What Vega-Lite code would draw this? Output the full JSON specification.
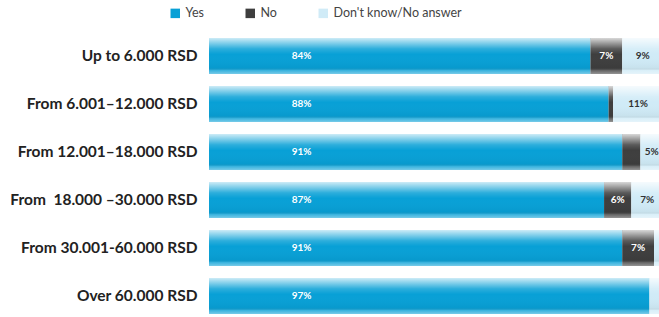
{
  "$schema": "https://vega.github.io/schema/vega-lite/v6.json",
  "autosize": {"type": "none"},
  "padding": {"left": 209, "top": 38, "right": 0, "bottom": 0},
  "width": 450,
  "height": 276,
  "background": "white",
  "config": {"view": {"stroke": null}, "font": "Lato"},
  "data": {
    "values": [
      {"cat": "Up to 6.000 RSD", "answer": "Yes", "ord": 1, "value": 84, "label": "84%"},
      {"cat": "Up to 6.000 RSD", "answer": "No", "ord": 2, "value": 7, "label": "7%"},
      {"cat": "Up to 6.000 RSD", "answer": "Don't know/No answer", "ord": 3, "value": 9, "label": "9%"},
      {"cat": "From 6.001–12.000 RSD", "answer": "Yes", "ord": 1, "value": 88, "label": "88%"},
      {"cat": "From 6.001–12.000 RSD", "answer": "No", "ord": 2, "value": 1, "label": ""},
      {"cat": "From 6.001–12.000 RSD", "answer": "Don't know/No answer", "ord": 3, "value": 11, "label": "11%"},
      {"cat": "From 12.001–18.000 RSD", "answer": "Yes", "ord": 1, "value": 91, "label": "91%"},
      {"cat": "From 12.001–18.000 RSD", "answer": "No", "ord": 2, "value": 4, "label": ""},
      {"cat": "From 12.001–18.000 RSD", "answer": "Don't know/No answer", "ord": 3, "value": 5, "label": "5%"},
      {"cat": "From\u00a0 18.000 –30.000 RSD", "answer": "Yes", "ord": 1, "value": 87, "label": "87%"},
      {"cat": "From\u00a0 18.000 –30.000 RSD", "answer": "No", "ord": 2, "value": 6, "label": "6%"},
      {"cat": "From\u00a0 18.000 –30.000 RSD", "answer": "Don't know/No answer", "ord": 3, "value": 7, "label": "7%"},
      {"cat": "From 30.001-60.000 RSD", "answer": "Yes", "ord": 1, "value": 91, "label": "91%"},
      {"cat": "From 30.001-60.000 RSD", "answer": "No", "ord": 2, "value": 7, "label": "7%"},
      {"cat": "From 30.001-60.000 RSD", "answer": "Don't know/No answer", "ord": 3, "value": 2, "label": ""},
      {"cat": "Over 60.000 RSD", "answer": "Yes", "ord": 1, "value": 97, "label": "97%"},
      {"cat": "Over 60.000 RSD", "answer": "No", "ord": 2, "value": 0, "label": ""},
      {"cat": "Over 60.000 RSD", "answer": "Don't know/No answer", "ord": 3, "value": 3, "label": ""}
    ]
  },
  "transform": [
    {"stack": "value", "groupby": ["cat"], "sort": [{"field": "ord"}], "as": ["x0", "x1"]},
    {"calculate": "(datum.x0 + datum.x1) / 2", "as": "mid"}
  ],
  "encoding": {
    "y": {
      "field": "cat",
      "type": "nominal",
      "sort": null,
      "scale": {"paddingInner": 0.25, "paddingOuter": 0},
      "axis": {
        "title": null,
        "domain": false,
        "ticks": false,
        "labelPadding": 12,
        "labelFontSize": 15.5,
        "labelFontWeight": "bold",
        "labelColor": "#222222",
        "labelFont": "Lato",
        "labelLimit": 300
      }
    }
  },
  "layer": [
    {
      "mark": {"type": "bar", "clip": true},
      "encoding": {
        "x": {
          "field": "x0",
          "type": "quantitative",
          "scale": {"domain": [0, 99.1], "nice": false, "zero": false},
          "axis": null
        },
        "x2": {"field": "x1"},
        "color": {
          "field": "answer",
          "type": "nominal",
          "scale": {
            "domain": ["Yes", "No", "Don't know/No answer"],
            "range": ["#08a0d6", "#3e3e3e", "#d0ebf7"]
          },
          "legend": {
            "title": null,
            "orient": "none",
            "legendX": -40,
            "legendY": -31,
            "direction": "horizontal",
            "symbolType": "square",
            "symbolSize": 90,
            "symbolStrokeWidth": 0,
            "symbolOpacity": 1,
            "labelFontSize": 12.5,
            "labelColor": "#444444",
            "labelFont": "Lato",
            "labelOffset": 4,
            "columnPadding": 40,
            "encode": {
              "symbols": {
                "update": {
                  "fill": {"signal": "datum.index == 2 ? '#a8dbf0' : (datum.index == 1 ? '#3e3e3e' : '#08a0d6')"}
                }
              }
            }
          }
        }
      }
    },
    {
      "mark": {
        "type": "bar",
        "clip": true,
        "fill": {
          "gradient": "linear",
          "x1": 0, "y1": 0, "x2": 0, "y2": 1,
          "stops": [
            {"offset": 0, "color": "rgba(255,255,255,0.8)"},
            {"offset": 0.3, "color": "rgba(255,255,255,0.15)"},
            {"offset": 0.45, "color": "rgba(255,255,255,0)"},
            {"offset": 0.82, "color": "rgba(0,0,0,0.04)"},
            {"offset": 0.9, "color": "rgba(255,255,255,0.2)"},
            {"offset": 1, "color": "rgba(255,255,255,0.45)"}
          ]
        }
      },
      "encoding": {
        "x": {"field": "x0", "type": "quantitative"},
        "x2": {"field": "x1"}
      }
    },
    {
      "transform": [{"filter": "datum.label != '' && datum.answer == 'Yes'"}],
      "mark": {"type": "text", "fontSize": 10, "fontWeight": "bold", "color": "white", "align": "center", "baseline": "middle"},
      "encoding": {
        "x": {"datum": 20.4, "type": "quantitative"},
        "text": {"field": "label"}
      }
    },
    {
      "transform": [{"filter": "datum.label != '' && datum.answer == 'No'"}],
      "mark": {"type": "text", "fontSize": 10, "fontWeight": "bold", "color": "white", "align": "center", "baseline": "middle"},
      "encoding": {
        "x": {"field": "mid", "type": "quantitative"},
        "text": {"field": "label"}
      }
    },
    {
      "transform": [{"filter": "datum.label != '' && datum.answer == 'Don\\'t know/No answer'"}],
      "mark": {"type": "text", "fontSize": 10, "fontWeight": "bold", "color": "#333333", "align": "center", "baseline": "middle"},
      "encoding": {
        "x": {"field": "mid", "type": "quantitative"},
        "text": {"field": "label"}
      }
    }
  ]
}
